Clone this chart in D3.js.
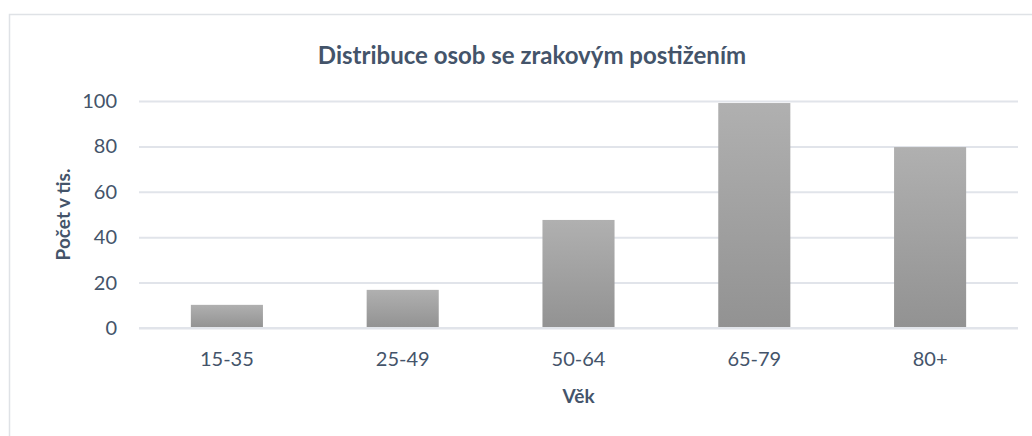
<!DOCTYPE html>
<html>
<head>
<meta charset="utf-8">
<script src="https://cdn.jsdelivr.net/npm/d3@7"></script>
<style>
  body { margin: 0; background: #fff; }
  text { font-family: Lato, "Open Sans", sans-serif; fill: #44546a; }
</style>
</head>
<body>
<svg id="chart"></svg>
<script>
// bar chart - distribution of visually impaired people by age

const ageGroups = ["15-35", "25-49", "50-64", "65-79", "80+"];
const counts = [10.2, 16.8, 47.6, 99.1, 79.7];
const yTicks = [0, 20, 40, 60, 80, 100];

const chartTitle = "Distribuce osob se zrakovým postižením";
const yTitle = "Počet v tis.";
const xTitle = "Věk";

const w = 1032;
const h = 436;
const margin = {top: 101, left: 139, bottom: 108, right: 14};
const barRatio = 0.41; // excel gap width ~143%
const textColor = "#44546a";
const gridColor = "#e1e4ea";

const svg = d3.select("#chart")
    .attr("width", w)
    .attr("height", h);

// outer frame (chart area border, cut off at bottom / right)
svg.append("rect")
    .attr("x", 9.5)
    .attr("y", 14.5)
    .attr("width", w + 20)
    .attr("height", h + 20)
    .attr("fill", "none")
    .attr("stroke", "#dfe2e6")
    .attr("stroke-width", 1.5);

// gradient for bars
const grad = svg.append("defs").append("linearGradient")
    .attr("id", "barGrad")
    .attr("x1", 0).attr("y1", 0)
    .attr("x2", 0).attr("y2", 1);
grad.append("stop").attr("offset", "0%").attr("stop-color", "#b0b0b0");
grad.append("stop").attr("offset", "100%").attr("stop-color", "#929292");

const plotW = w - margin.left - margin.right;
const plotBottom = h - margin.bottom;

// SCALES
const xScale = d3.scaleBand()
    .domain(ageGroups)
    .range([margin.left, margin.left + plotW])
    .padding(0);

const yScale = d3.scaleLinear()
    .domain([0, 100])
    .range([plotBottom, margin.top]);

// AXES
const yAxis = d3.axisLeft(yScale)
    .tickValues(yTicks)
    .tickSize(-plotW)
    .tickPadding(22);

const yG = svg.append("g")
    .attr("class", "y axis")
    .attr("transform", `translate(${margin.left},0)`)
    .call(yAxis);
yG.select(".domain").remove();
yG.selectAll(".tick line")
    .attr("stroke", gridColor)
    .attr("stroke-width", 2);
yG.selectAll(".tick text")
    .style("font-size", "20px")
    .attr("fill", textColor);

const xAxis = d3.axisBottom(xScale)
    .tickSize(0)
    .tickPadding(24);

const xG = svg.append("g")
    .attr("class", "x axis")
    .attr("transform", `translate(0,${plotBottom})`)
    .call(xAxis);
xG.select(".domain").remove();
xG.selectAll(".tick text")
    .style("font-size", "20px")
    .attr("fill", textColor);

// BARS
const barW = xScale.bandwidth() * barRatio;
svg.selectAll(".bar")
    .data(counts)
    .join("rect")
    .attr("class", "bar")
    .attr("x", (d, i) => xScale(ageGroups[i]) + (xScale.bandwidth() - barW) / 2)
    .attr("y", d => yScale(d))
    .attr("width", barW)
    .attr("height", d => plotBottom - yScale(d))
    .attr("fill", "url(#barGrad)");

// redraw baseline on top of bars
svg.append("line")
    .attr("x1", margin.left)
    .attr("x2", margin.left + plotW)
    .attr("y1", yScale(0))
    .attr("y2", yScale(0))
    .attr("stroke", gridColor)
    .attr("stroke-width", 2);

// TITLES
svg.append("text")
    .attr("x", 532)
    .attr("y", 64)
    .attr("text-anchor", "middle")
    .style("font-size", "24px")
    .style("font-weight", "bold")
    .text(chartTitle);

svg.append("text")
    .attr("transform", `translate(70,${(margin.top + plotBottom) / 2}) rotate(-90)`)
    .attr("text-anchor", "middle")
    .style("font-size", "19px")
    .style("font-weight", "bold")
    .text(yTitle);

svg.append("text")
    .attr("x", margin.left + plotW / 2)
    .attr("y", 403)
    .attr("text-anchor", "middle")
    .style("font-size", "19px")
    .style("font-weight", "bold")
    .text(xTitle);
</script>
</body>
</html>
